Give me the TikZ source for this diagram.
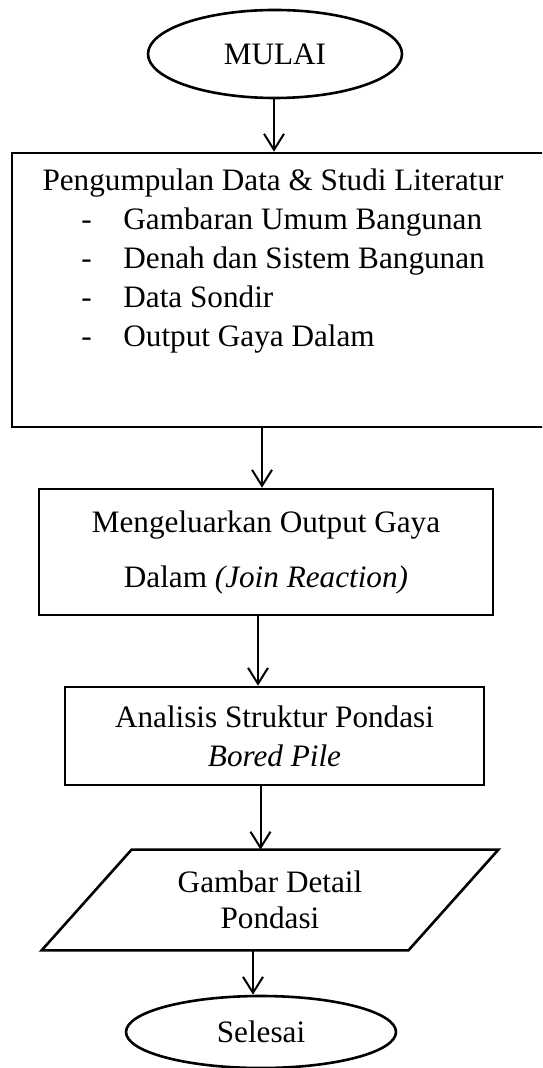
\documentclass[tikz,border=0pt]{standalone}
\usepackage{fontspec}
\setmainfont{Liberation Serif}
\usetikzlibrary{shapes.geometric, calc, positioning, arrows.meta}

\tikzset{
  terminal/.style={draw, ellipse, line width=1.3pt, inner sep=0pt},
  proses/.style={draw, rectangle, line width=1.3pt, inner sep=0pt, align=center},
  panah/.style={-{Straight Barb[length=8pt,width=10pt]}, line width=1pt},
}

\begin{document}
\begin{tikzpicture}[x=0.5pt, y=-0.5pt, font=\fontsize{15.6}{19.5}\selectfont]
  \useasboundingbox (0,0) rectangle (542,1068);
  \clip (0,0) rectangle (542,1068);

  % start
  \node[terminal, minimum width=127pt, minimum height=44pt] (mulai) at (275,54) {MULAI};

  % data collection box, runs off the right side, text hangs from the top
  \node[proses, minimum width=274pt, minimum height=137pt] (kumpul) at (286,290) {};
  \node[inner sep=0pt] (judul) at (273,183) {Pengumpulan Data \& Studi Literatur};
  \node[inner sep=0pt, anchor=west, align=left] (daftar) at (81,281) {%
    \makebox[21pt][l]{-}Gambaran Umum Bangunan\\
    \makebox[21pt][l]{-}Denah dan Sistem Bangunan\\
    \makebox[21pt][l]{-}Data Sondir\\
    \makebox[21pt][l]{-}Output Gaya Dalam};

  \node[proses, minimum width=227pt, minimum height=63pt] (output) at (266,552)
    {Mengeluarkan Output Gaya\\[8pt] Dalam \textit{(Join Reaction)}};

  \node[proses, minimum width=209.5pt, minimum height=49pt] (analisis) at (274.5,736)
    {Analisis Struktur Pondasi\\ \textit{Bored Pile}};

  % parallelogram drawn round the text node
  \node[inner sep=0pt, minimum width=183pt, minimum height=50pt, align=center,
        font=\fontsize{15.6}{18}\selectfont] (gambar) at (270,900)
    {Gambar Detail\\ Pondasi};
  \draw[line width=1.3pt] ([xshift=-22.5pt]gambar.south west) -- ([xshift=22.5pt]gambar.north west)
    -- ([xshift=22.5pt]gambar.north east) -- ([xshift=-22.5pt]gambar.south east) -- cycle;

  % end
  \node[terminal, minimum width=135pt, minimum height=36pt] (selesai) at (261,1032) {Selesai};

  % arrows
  \draw[panah] ([xshift=-0.5pt]mulai.south) -- ($(kumpul.north -| mulai.south)+(-0.5pt,0)$);
  \draw[panah] ([xshift=-12pt]kumpul.south) -- ($(output.north -| kumpul.south)+(-12pt,0)$);
  \draw[panah] ([xshift=-4pt]output.south) -- ($(analisis.north -| output.south)+(-4pt,0)$);
  \draw[panah] ([xshift=-7pt]analisis.south) -- ($(gambar.north -| analisis.south)+(-7pt,0)$);
  \draw[panah] ([xshift=-8.5pt]gambar.south) -- ($(selesai.north -| gambar.south)+(-8.5pt,0)$);
\end{tikzpicture}
\end{document}
